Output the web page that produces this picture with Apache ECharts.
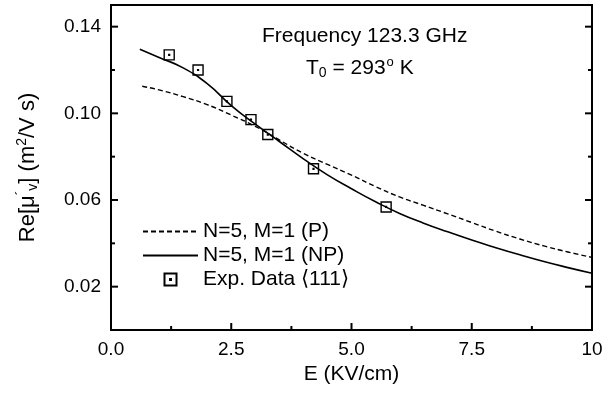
<!DOCTYPE html>
<html>
<head>
<meta charset="utf-8">
<script src="https://cdn.jsdelivr.net/npm/echarts@6/dist/echarts.min.js"></script>
<style>
  html, body { margin: 0; padding: 0; background: #fff; }
  #chart { width: 611px; height: 396px; }
</style>
</head>
<body>
<div id="chart"></div>
<script>
// model curve, parabolic band (P)
const fieldP = [0.65, 1.0, 1.5, 2.0, 2.5, 3.0, 3.5, 4.0, 4.5, 5.0, 5.5, 6.0, 6.5, 7.0, 7.5, 8.0, 8.5, 9.0, 9.5, 10.0];
const mobilityP = [0.1125, 0.1108, 0.1077, 0.1040, 0.0992, 0.0940, 0.0877, 0.0815, 0.0764, 0.0715, 0.0662, 0.0614, 0.0575, 0.0536, 0.0496, 0.0456, 0.0420, 0.0388, 0.0360, 0.0335];
// model curve, non-parabolic band (NP)
const fieldNP = [0.6, 1.0, 1.5, 2.0, 2.5, 3.0, 3.5, 4.0, 4.5, 5.0, 5.5, 6.0, 6.5, 7.0, 7.5, 8.0, 8.5, 9.0, 9.5, 10.0];
const mobilityNP = [0.1296, 0.1258, 0.1210, 0.1137, 0.1036, 0.0950, 0.0870, 0.0790, 0.0716, 0.0652, 0.0592, 0.0538, 0.0493, 0.0453, 0.0415, 0.0380, 0.0347, 0.0316, 0.0288, 0.0262];
// measured points
const expField = [1.21, 1.81, 2.41, 2.91, 3.26, 4.21, 5.72];
const expMobility = [0.127, 0.120, 0.1055, 0.0971, 0.0902, 0.0744, 0.0568];

// tick positions
const xMajorTicks = [2.5, 5.0, 7.5];
const xMinorTicks = [1.25, 3.75, 6.25, 8.75];
const yMajorTicks = [0.02, 0.06, 0.10, 0.14];
const yMinorTicks = [0.04, 0.08, 0.12];

const FONT = "'Liberation Sans', Arial, sans-serif";
const zip = (xs, ys) => xs.map((x, i) => [x, ys[i]]);

// [side, value, major]; side 0 = bottom, 1 = left, 2 = right
const tickData = [
    ...xMajorTicks.map((v) => [0, v, 1]),
    ...xMinorTicks.map((v) => [0, v, 0]),
    ...yMajorTicks.map((v) => [1, v, 1]),
    ...yMinorTicks.map((v) => [1, v, 0]),
    ...yMajorTicks.map((v) => [2, v, 1]),
    ...yMinorTicks.map((v) => [2, v, 0]),
];

const chart = echarts.init(document.getElementById("chart"));

const lineBlack = { color: "#000", width: 2 };

const option = {
    animation: false,
    backgroundColor: "#fff",
    // the box around the plot
    grid: { left: 111, right: 19, top: 5, bottom: 66, show: true, borderColor: "#000", borderWidth: 2 },
    textStyle: { fontFamily: FONT },
    legend: {
        orient: "vertical",
        left: 137,
        top: 216,
        itemWidth: 55,
        itemHeight: 12,
        itemGap: 3,
        textStyle: { fontSize: 21, color: "#000", fontFamily: FONT },
        data: ["N=5, M=1 (P)", "N=5, M=1 (NP)", "Exp. Data ⟨111⟩"],
    },
    xAxis: {
        type: "value",
        min: 0,
        max: 10,
        interval: 2.5,
        name: "E (KV/cm)",
        nameLocation: "middle",
        nameGap: 28,
        nameTextStyle: { fontSize: 21, color: "#000", fontFamily: FONT },
        splitLine: { show: false },
        axisLine: { show: true, onZero: false, lineStyle: lineBlack },
        axisTick: { show: false },
        axisLabel: {
            fontSize: 19,
            color: "#000",
            margin: 10,
            formatter: (v) => (v === 10 ? "10" : v.toFixed(1)),
        },
    },
    yAxis: {
        type: "value",
        min: 0,
        max: 0.15,
        interval: 0.02,
        splitLine: { show: false },
        axisLine: { show: true, onZero: false, lineStyle: lineBlack },
        axisTick: { show: false },
        axisLabel: {
            fontSize: 19,
            color: "#000",
            margin: 10,
            formatter: (v) => (yMajorTicks.some((t) => Math.abs(t - v) < 1e-6) ? v.toFixed(2) : ""),
        },
        name: "{a|Re[μ}{p|´}{s|v}{a|] (m}{p|2}{a|/V s)}",
        nameLocation: "middle",
        nameRotate: 90,
        nameGap: 70,
        nameTextStyle: {
            color: "#000",
            rich: {
                a: { fontSize: 22, fontFamily: FONT, color: "#000" },
                p: { fontSize: 14, fontFamily: FONT, color: "#000", padding: [0, 0, 12, 0] },
                s: { fontSize: 14, fontFamily: FONT, color: "#000", padding: [10, 0, 0, 0] },
            },
        },
    },
    graphic: [
        {
            type: "text",
            left: 262,
            top: 26,
            style: { text: "Frequency 123.3 GHz", font: "21px " + FONT, fill: "#000" },
        },
        {
            type: "text",
            left: 306,
            top: 56,
            style: {
                text: "{a|T}{s|0}{a| = 293}{p|o}{a| K}",
                rich: {
                    a: { fontSize: 21, fontFamily: FONT, fill: "#000" },
                    p: { fontSize: 13, fontFamily: FONT, fill: "#000", padding: [0, 0, 12, 1] },
                    s: { fontSize: 14, fontFamily: FONT, fill: "#000", padding: [10, 0, 0, 0] },
                },
            },
        },
    ],
    series: [
        {
            name: "N=5, M=1 (P)",
            type: "line",
            smooth: true,
            symbol: "none",
            itemStyle: { color: "rgba(0,0,0,0)" },
            lineStyle: { color: "#000", width: 1.4, type: [5, 3] },
            data: zip(fieldP, mobilityP),
            z: 3,
        },
        {
            name: "N=5, M=1 (NP)",
            type: "line",
            smooth: true,
            symbol: "none",
            itemStyle: { color: "rgba(0,0,0,0)" },
            lineStyle: { color: "#000", width: 1.6 },
            data: zip(fieldNP, mobilityNP),
            z: 3,
        },
        {
            name: "Exp. Data ⟨111⟩",
            type: "scatter",
            symbol: "path://M0,0H10V10H0Z M4.6,4.6H5.4V5.4H4.6Z",
            symbolKeepAspect: true,
            symbolSize: 10,
            itemStyle: { color: "rgba(0,0,0,0)", borderColor: "#000", borderWidth: 1.4, opacity: 1 },
            data: zip(expField, expMobility),
            z: 2,
        },
        {
            // inward ticks on the frame, placed through the axis scales
            name: "ticks",
            type: "custom",
            silent: true,
            clip: false,
            z: 5,
            data: tickData,
            renderItem: (params, api) => {
                const side = api.value(0);
                const v = api.value(1);
                const len = api.value(2) ? 7 : 4;
                let a, b;
                if (side === 0) {
                    a = api.coord([v, 0]);
                    b = [a[0], a[1] - len];
                } else if (side === 1) {
                    a = api.coord([0, v]);
                    b = [a[0] + len, a[1]];
                } else {
                    a = api.coord([10, v]);
                    b = [a[0] - len, a[1]];
                }
                return {
                    type: "line",
                    shape: { x1: a[0], y1: a[1], x2: b[0], y2: b[1] },
                    style: { stroke: "#000", lineWidth: 2 },
                };
            },
        },
    ],
};

chart.setOption(option);
</script>
</body>
</html>
